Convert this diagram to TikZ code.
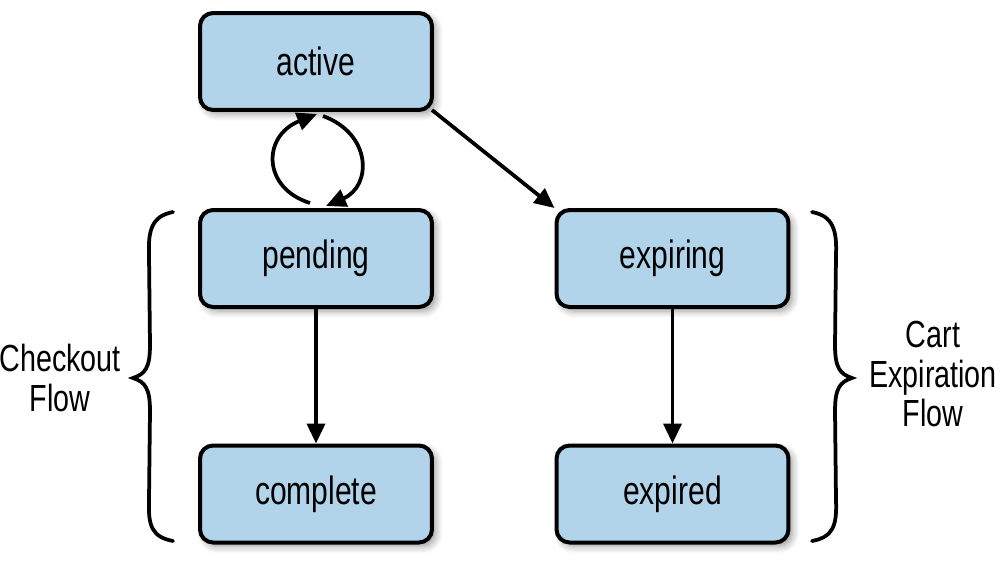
\documentclass[tikz,border=0pt]{standalone}
\usepackage{fontspec}
\setmainfont{Liberation Sans}[FakeStretch=0.76]
\usetikzlibrary{arrows.meta,shadows.blur}
\definecolor{boxblue}{RGB}{178,212,234}
\tikzset{
  state/.style={draw=black, line width=0.08cm, fill=boxblue, rounded corners=0.26cm,
    minimum width=4.64cm, minimum height=1.94cm, inner sep=0pt,
    font=\fontsize{22.5}{26}\selectfont,
    blur shadow={shadow xshift=0.08cm, shadow yshift=-0.08cm, shadow blur steps=6, shadow blur radius=0.14cm}},
  arr/.style={line width=0.075cm, -{Triangle[length=0.4cm,width=0.36cm]}},
  bracepath/.style={line width=0.075cm, line cap=round},
  lbl/.style={align=center, font=\fontsize{21.5}{22.5}\selectfont, inner sep=0pt}
}
\begin{document}
\begin{tikzpicture}[x=0.02cm,y=-0.02cm]
\useasboundingbox (0,0) rectangle (1000,569);
\node[state] (active) at (316,61.5) {active};
\node[state] (pending) at (316,258.5) {pending};
\node[state] (complete) at (316,494) {complete};
\node[state] (expiring) at (672.5,258.5) {expiring};
\node[state] (expired) at (672.5,494) {expired};
% loop
\draw[arr] ([xshift=-0.12cm,yshift=0.1cm]pending.north) .. controls (262,188) and (262,136) .. ([xshift=0.02cm,yshift=-0.04cm]active.south);
\draw[arr] ([xshift=0.14cm,yshift=-0.08cm]active.south) .. controls (372,134) and (372,186) .. ([xshift=0.2cm,yshift=0.04cm]pending.north);
% other arrows
\draw[arr] ([xshift=-0.04cm,yshift=0.04cm]active.south east) -- (expiring.north west);
\draw[arr] (pending.south) -- (complete.north);
\draw[arr] (expiring.south) -- (expired.north);
% braces
\draw[bracepath] (173,212) .. controls (152,216) and (148,230) .. (149,255)
  -- (150,345) .. controls (150,368) and (145,374) .. (133,378)
  .. controls (145,382) and (150,388) .. (150,411)
  -- (149,500) .. controls (148,526) and (152,537) .. (173,541);
\draw[bracepath] (812,212) .. controls (833,216) and (837,230) .. (836,255)
  -- (835,345) .. controls (835,368) and (840,374) .. (852,378)
  .. controls (840,382) and (835,388) .. (835,411)
  -- (836,500) .. controls (837,526) and (833,537) .. (812,541);
\node[lbl] (checkout) at (60,378) {Checkout\\Flow};
\node[lbl] (cart) at (933,374) {Cart\\Expiration\\Flow};
\end{tikzpicture}
\end{document}
